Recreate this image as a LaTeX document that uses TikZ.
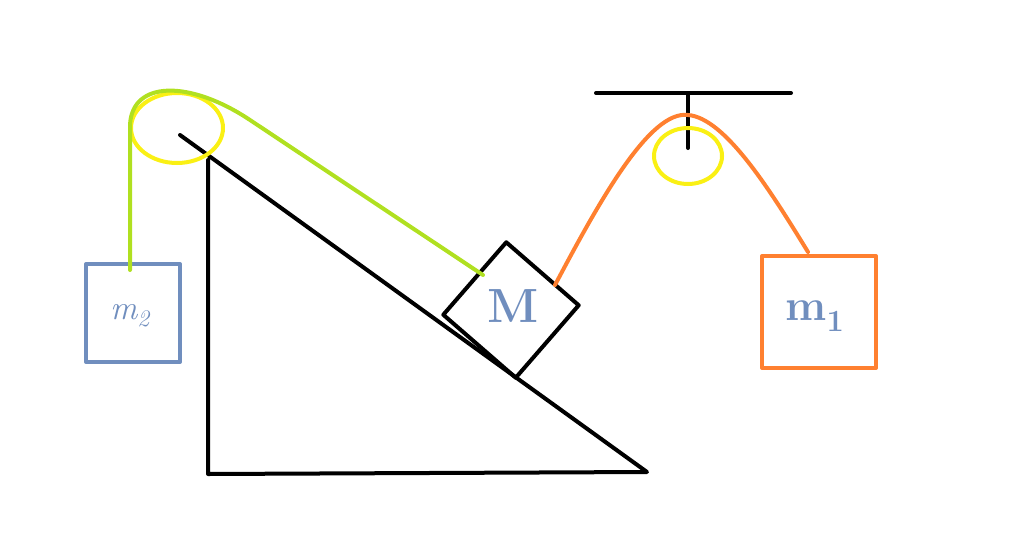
\documentclass[tikz,border=0pt]{standalone}
\usetikzlibrary{shapes.geometric}
\begin{document}
\begin{tikzpicture}[x=1pt,y=-1pt,line width=4pt,line cap=round,line join=round]
\definecolor{bl}{RGB}{112,142,190}
\definecolor{gr}{RGB}{176,224,32}
\definecolor{og}{RGB}{255,128,48}
\definecolor{yl}{RGB}{250,240,20}
\tikzset{mbox/.style={draw,minimum width=94pt,minimum height=98pt,inner sep=0pt},
  big/.style={text=bl,font=\fontsize{#1}{#1}\selectfont}}
\useasboundingbox (0,0) rectangle (1024,549);
% incline
\coordinate (top) at (208,160);
\coordinate (bl) at (208,474);
\coordinate (br) at (647,472);
\coordinate (tip) at (180,135);
\draw (tip) -- (br) -- (bl) -- (top);
% pulley left
\node[draw=yl,ellipse,minimum width=92pt,minimum height=70pt,inner sep=0pt] (p2) at (177,128) {};
% block M
\node[draw=black,rotate=-41,minimum size=96pt,inner sep=0pt] (M) at (511,310) {};
\node[big=48] at (513,306) {\bfseries M};
% masses
\node[mbox,draw=bl] (m2) at (133,313) {};
\node[big=34] at (130,316) {\itshape m\textsubscript{2}};
\node[mbox,draw=og,minimum width=114pt,minimum height=112pt] (m1) at (819,312) {};
\node[big=44] at (815,316) {\bfseries m\textsubscript{1}};
% top bar + pulley
\coordinate (b1) at (596,93); \coordinate (b2) at (791,93);
\draw (b1) -- (b2);
\coordinate (ax) at (688,148);
\draw (688,93) -- (ax);
\node[draw=yl,ellipse,minimum width=68pt,minimum height=56pt,inner sep=0pt] (p1) at (688,156) {};
% ropes
\draw[gr] (130,270) -- (130,125) .. controls (132,80) and (190,80) .. (250,120) -- (483,275);
\draw[og] (555,285) .. controls (600,200) and (650,110) .. (688,115) .. controls (725,118) and (770,190) .. (808,252);
\end{tikzpicture}
\end{document}
